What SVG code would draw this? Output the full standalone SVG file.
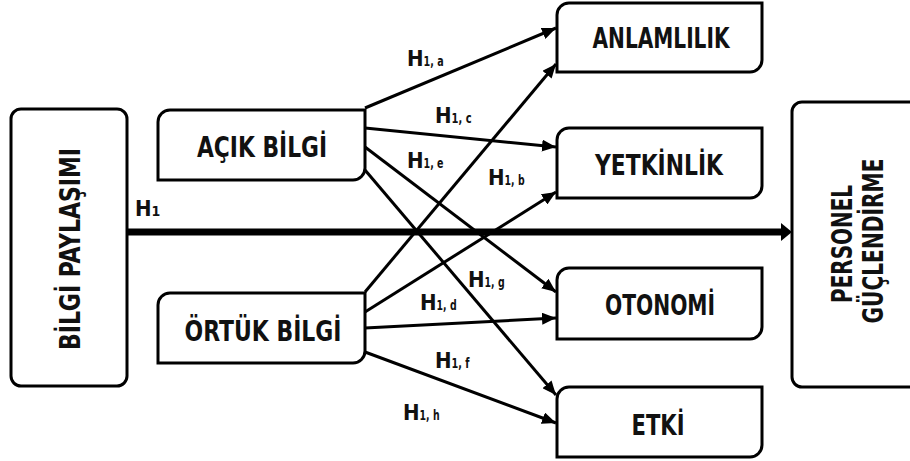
<svg xmlns="http://www.w3.org/2000/svg" width="910" height="461" viewBox="0 0 910 461">
<style>
.box{fill:#fff;stroke:#000;stroke-width:3}
.nt{font-family:"DejaVu Sans Condensed","Liberation Sans Narrow","DejaVu Sans",sans-serif;font-weight:bold;font-size:28px;fill:#111;text-anchor:middle}
.lb{font-family:"DejaVu Sans Condensed","Liberation Sans Narrow","DejaVu Sans",sans-serif;font-weight:600;font-size:22px;fill:#111}
.sub{font-size:14px}
.ar{stroke:#000;stroke-width:3;fill:none;marker-end:url(#ah)}
</style>
<defs>
<marker id="ah" markerUnits="userSpaceOnUse" markerWidth="14" markerHeight="12" refX="14" refY="6" orient="auto">
<path d="M0,0 L14,6 L0,12 z" fill="#000"/>
</marker>
</defs>
<rect width="910" height="461" fill="#fff"/>
<g id="connectors">
<line x1="127" y1="232" x2="786" y2="232" stroke="#000" stroke-width="7"/>
<polygon points="781,223 792,232 781,241" fill="#000"/>
<line class="ar" x1="365" y1="108" x2="556" y2="28"/>
<line class="ar" x1="365" y1="128" x2="556" y2="147"/>
<line class="ar" x1="365" y1="147" x2="556" y2="292"/>
<line class="ar" x1="365" y1="170" x2="556" y2="395"/>
<line class="ar" x1="365" y1="292" x2="556" y2="64"/>
<line class="ar" x1="365" y1="312" x2="556" y2="192"/>
<line class="ar" x1="365" y1="328" x2="556" y2="318"/>
<line class="ar" x1="365" y1="352" x2="556" y2="423"/>
<text class="lb" x="135" y="216" font-size="20">H<tspan class="sub" font-size="13">1</tspan></text>
<text class="lb" x="407" y="66">H<tspan class="sub" textLength="20" lengthAdjust="spacingAndGlyphs">1, a</tspan></text>
<text class="lb" x="435" y="123">H<tspan class="sub" textLength="20" lengthAdjust="spacingAndGlyphs">1, c</tspan></text>
<text class="lb" x="407" y="168">H<tspan class="sub" textLength="20" lengthAdjust="spacingAndGlyphs">1, e</tspan></text>
<text class="lb" x="488" y="185">H<tspan class="sub" textLength="20" lengthAdjust="spacingAndGlyphs">1, b</tspan></text>
<text class="lb" x="468" y="287">H<tspan class="sub" textLength="20" lengthAdjust="spacingAndGlyphs">1, g</tspan></text>
<text class="lb" x="420" y="310">H<tspan class="sub" textLength="20" lengthAdjust="spacingAndGlyphs">1, d</tspan></text>
<text class="lb" x="435" y="368">H<tspan class="sub" textLength="18" lengthAdjust="spacingAndGlyphs">1, f</tspan></text>
<text class="lb" x="403" y="420">H<tspan class="sub" textLength="20" lengthAdjust="spacingAndGlyphs">1, h</tspan></text>
</g>
<g id="bilgi-paylasimi">
<rect class="box" x="11" y="109" width="116" height="277" rx="10"/>
<text class="nt" transform="translate(80,249) rotate(-90)" textLength="202" lengthAdjust="spacingAndGlyphs">BİLGİ PAYLAŞIMI</text>
</g>
<g id="acik-bilgi">
<path class="box" d="M170,110 H365 V168 A12,12 0 0 1 353,180 H158 V122 A12,12 0 0 1 170,110 Z"/>
<text class="nt" x="262" y="157" textLength="130" lengthAdjust="spacingAndGlyphs">AÇIK BİLGİ</text>
</g>
<g id="ortuk-bilgi">
<path class="box" d="M170,293 H365 V351 A12,12 0 0 1 353,363 H158 V305 A12,12 0 0 1 170,293 Z"/>
<text class="nt" x="263" y="341" textLength="157" lengthAdjust="spacingAndGlyphs">ÖRTÜK BİLGİ</text>
</g>
<g id="anlamlilik">
<path class="box" d="M569,3 H762 V60 A12,12 0 0 1 750,72 H557 V15 A12,12 0 0 1 569,3 Z"/>
<text class="nt" x="661" y="48" textLength="137" lengthAdjust="spacingAndGlyphs">ANLAMLILIK</text>
</g>
<g id="yetkinlik">
<path class="box" d="M569,128 H762 V186 A12,12 0 0 1 750,198 H557 V140 A12,12 0 0 1 569,128 Z"/>
<text class="nt" x="659" y="175" textLength="128" lengthAdjust="spacingAndGlyphs">YETKİNLİK</text>
</g>
<g id="otonomi">
<path class="box" d="M569,268 H762 V327 A12,12 0 0 1 750,339 H557 V280 A12,12 0 0 1 569,268 Z"/>
<text class="nt" x="660" y="315" textLength="110" lengthAdjust="spacingAndGlyphs">OTONOMİ</text>
</g>
<g id="etki">
<path class="box" d="M569,387 H762 V445 A12,12 0 0 1 750,457 H557 V399 A12,12 0 0 1 569,387 Z"/>
<text class="nt" x="658" y="435" textLength="53" lengthAdjust="spacingAndGlyphs">ETKİ</text>
</g>
<g id="personel-guclendirme">
<rect class="box" x="792" y="102" width="140" height="285" rx="10"/>
<text class="nt" transform="translate(852,244) rotate(-90)" textLength="118" lengthAdjust="spacingAndGlyphs">PERSONEL</text>
<text class="nt" transform="translate(883,241) rotate(-90)" textLength="165" lengthAdjust="spacingAndGlyphs">GÜÇLENDİRME</text>
</g>
</svg>
